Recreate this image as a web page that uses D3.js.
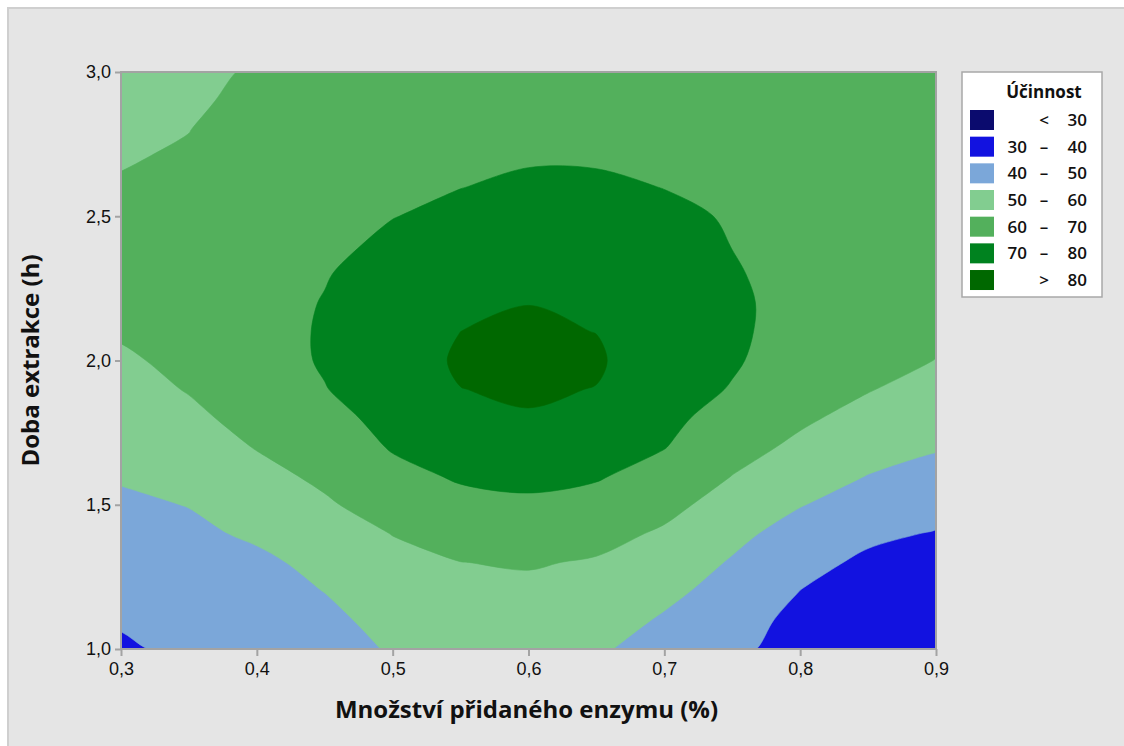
<!DOCTYPE html>
<html><head><meta charset="utf-8">
<script src="https://cdn.jsdelivr.net/npm/d3@7"></script>
<style>
body{margin:0;background:#ffffff;}
svg{display:block;font-family:"Segoe UI","Open Sans","Noto Sans",sans-serif;}
</style>
</head><body>
<svg id="chart" width="1124" height="746"></svg>
<script>
// ---- data ----
const xValues = [0.30,0.35,0.40,0.45,0.50,0.55,0.60,0.65,0.70,0.75,0.80,0.85,0.90];
const yValues = [1.0,1.1,1.2,1.3,1.4,1.5,1.6,1.7,1.8,1.9,2.0,2.1,2.2,2.3,2.4,2.5,2.6,2.7,2.8,2.9,3.0];
// efficiency[row for yValues[j]][column for xValues[i]]
const efficiency = [
  [38.8,41.9,44.9,47.7,50.5,53.0,53.5,51.0,47.0,42.5,35.5,33.5,32.0],
  [40.8,43.5,46.1,48.4,52.2,55.3,55.8,53.7,49.1,44.7,37.0,35.0,33.0],
  [42.7,45.2,47.3,50.1,54.8,57.6,58.1,56.4,51.9,46.9,39.9,37.0,34.3],
  [44.7,46.8,48.5,52.0,57.7,59.9,60.7,59.2,55.4,49.2,42.6,38.5,37.0],
  [46.7,48.5,51.1,56.0,60.2,63.7,64.6,62.9,58.8,52.4,46.2,41.6,39.5],
  [48.7,50.2,54.2,58.9,63.9,67.5,68.5,67.0,62.6,56.2,50.4,45.7,43.2],
  [50.7,52.9,57.4,61.7,67.5,71.0,72.2,70.8,66.5,59.9,54.3,49.8,47.0],
  [52.9,55.6,60.4,64.4,70.7,74.0,75.9,73.8,70.3,63.1,58.3,53.5,50.7],
  [55.0,58.4,62.5,67.0,72.9,76.9,79.5,76.7,72.3,66.3,61.3,57.2,53.8],
  [57.2,60.4,64.3,69.7,74.6,79.9,80.9,79.8,73.8,69.5,63.7,60.4,56.9],
  [59.3,61.2,66.2,70.8,75.9,81.0,82.0,81.0,74.7,70.9,66.0,62.1,59.9],
  [60.5,62.1,66.4,70.9,76.1,80.0,81.0,79.9,75.0,71.5,66.7,63.8,61.1],
  [61.2,63.0,66.6,70.4,75.5,78.0,79.9,78.2,74.5,71.4,67.3,65.5,62.2],
  [61.9,63.8,66.4,69.5,73.9,76.0,77.8,76.4,74.0,70.5,68.0,65.8,63.4],
  [61.9,63.3,66.0,68.0,71.7,74.0,75.7,74.6,72.6,69.9,67.8,66.2,64.5],
  [61.2,62.5,65.5,67.3,69.8,71.9,73.5,72.8,71.3,69.5,67.5,66.5,64.7],
  [60.5,61.6,64.6,66.6,68.9,69.9,71.3,71.1,69.9,68.8,67.3,66.2,64.8],
  [59.6,60.7,63.7,65.8,68.1,69.1,69.4,69.4,69.1,68.1,66.9,65.9,65.0],
  [57.9,59.9,62.8,65.0,67.2,68.2,68.8,68.8,68.2,67.4,66.4,65.6,64.8],
  [56.2,58.8,61.9,64.2,66.4,67.4,67.9,67.9,67.4,66.7,66.0,65.3,64.7],
  [54.5,57.7,61.0,63.5,65.5,66.5,67.0,67.0,66.5,66.0,65.5,65.0,64.5]
];
const thresholds = [30,40,50,60,70,80];
const bandColors = ["#0b0b6e","#1212e0","#7ba7d9","#82cd90","#53b05c","#00821f","#006800"];
const legendLeft  = ["",  "30","40","50","60","70",""];
const legendMid   = ["<", "–", "–", "–", "–", "–", ">"];
const legendRight = ["30","40","50","60","70","80","80"];
const xTicks = [0.3,0.4,0.5,0.6,0.7,0.8,0.9];
const yTicks = [1.0,1.5,2.0,2.5,3.0];
const xTitle = "Množství přidaného enzymu (%)";
const yTitle = "Doba extrakce (h)";
const legendTitle = "Účinnost";

// ---- drawing ----
const svg = d3.select("#chart");
const W = 1124, H = 746;
const plot = {left:121, right:936, top:72, bottom:649};

svg.append("rect").attr("x",0).attr("y",0).attr("width",W).attr("height",H).attr("fill","#ffffff");
svg.append("rect").attr("x",8).attr("y",8).attr("width",W+20).attr("height",H+20)
  .attr("fill","#e5e5e5").attr("stroke","#cfcfcf").attr("stroke-width",2);

const x = d3.scaleLinear().domain([0.3,0.9]).range([plot.left, plot.right]);
const y = d3.scaleLinear().domain([1.0,3.0]).range([plot.bottom, plot.top]);

const nx = xValues.length, ny = yValues.length;
// grid coordinate -> data coordinate (d3.contours puts sample i at i+0.5)
const gx = d3.scaleLinear().domain([0.5, nx-0.5]).range([xValues[0], xValues[nx-1]]);
const gy = d3.scaleLinear().domain([0.5, ny-0.5]).range([yValues[0], yValues[ny-1]]);

const flat = [];
for (let j=0;j<ny;j++) for (let i=0;i<nx;i++) flat.push(efficiency[j][i]);

const contours = d3.contours().size([nx, ny]).thresholds(thresholds)(flat);
const ringLine = d3.line().curve(d3.curveCatmullRomClosed.alpha(0.5));
function contourPath(mp){
  let s = "";
  mp.coordinates.forEach(poly => poly.forEach(ring => {
    const pts = ring.slice(0, ring.length-1).map(p => [x(gx(p[0])), y(gy(p[1]))]);
    if (pts.length > 2) s += ringLine(pts);
  }));
  return s;
}

svg.append("clipPath").attr("id","plotclip").append("rect")
  .attr("x",plot.left).attr("y",plot.top)
  .attr("width",plot.right-plot.left).attr("height",plot.bottom-plot.top);

const g = svg.append("g").attr("clip-path","url(#plotclip)");
g.append("rect").attr("x",plot.left).attr("y",plot.top)
  .attr("width",plot.right-plot.left).attr("height",plot.bottom-plot.top)
  .attr("fill",bandColors[0]);
g.selectAll("path.band").data(contours).join("path")
  .attr("class","band")
  .attr("d",contourPath)
  .attr("fill-rule","evenodd")
  .attr("fill",(d,i)=>bandColors[i+1])
  .attr("stroke",(d,i)=>bandColors[i+1])
  .attr("stroke-width",0.6);

// frame
const axisColor = "#a3a3a3";
svg.append("rect").attr("x",plot.left).attr("y",plot.top)
  .attr("width",plot.right-plot.left).attr("height",plot.bottom-plot.top)
  .attr("fill","none").attr("stroke",axisColor).attr("stroke-width",2);

const fmt = v => d3.format(".1f")(v).replace(".",",");

// x axis
const xa = svg.append("g").attr("transform",`translate(0,${plot.bottom})`)
  .call(d3.axisBottom(x).tickValues(xTicks).tickFormat(fmt).tickSize(7).tickSizeOuter(0).tickPadding(6));
xa.select(".domain").remove();
xa.selectAll(".tick line").attr("stroke",axisColor).attr("stroke-width",2);
xa.selectAll(".tick text").attr("font-size",18).attr("fill","#111").attr("font-family",null);

// y axis
const ya = svg.append("g").attr("transform",`translate(${plot.left},0)`)
  .call(d3.axisLeft(y).tickValues(yTicks).tickFormat(fmt).tickSize(6).tickSizeOuter(0).tickPadding(4));
ya.select(".domain").remove();
ya.selectAll(".tick line").attr("stroke",axisColor).attr("stroke-width",2);
ya.selectAll(".tick text").attr("font-size",18).attr("fill","#111").attr("font-family",null);

// titles
svg.append("text").attr("x",(plot.left+plot.right)/2 - 2).attr("y",718)
  .attr("text-anchor","middle").attr("font-size",24).attr("font-weight",700).attr("fill","#111")
  .text(xTitle);
svg.append("text").attr("transform",`translate(39,${(plot.top+plot.bottom)/2}) rotate(-90)`)
  .attr("text-anchor","middle").attr("font-size",24).attr("font-weight",700).attr("fill","#111")
  .text(yTitle);

// legend
const lg = svg.append("g");
lg.append("rect").attr("x",962).attr("y",72).attr("width",140).attr("height",225)
  .attr("fill","#ffffff").attr("stroke","#a8a8a8").attr("stroke-width",1.5);
lg.append("text").attr("x",1044).attr("y",98).attr("text-anchor","middle")
  .attr("font-size",17).attr("font-weight",700).attr("fill","#111").text(legendTitle);
const rows = lg.selectAll("g.row").data(bandColors).join("g").attr("class","row")
  .attr("transform",(d,i)=>`translate(0,${110 + i*26.67})`);
rows.append("rect").attr("x",970).attr("y",0).attr("width",24).attr("height",20).attr("fill",d=>d);
rows.append("text").attr("x",1027).attr("y",16).attr("text-anchor","end")
  .attr("font-size",17).attr("font-weight",600).attr("fill","#111").text((d,i)=>legendLeft[i]);
rows.append("text").attr("x",1044).attr("y",16).attr("text-anchor","middle")
  .attr("font-size",17).attr("font-weight",600).attr("fill","#111").text((d,i)=>legendMid[i]);
rows.append("text").attr("x",1087).attr("y",16).attr("text-anchor","end")
  .attr("font-size",17).attr("font-weight",600).attr("fill","#111").text((d,i)=>legendRight[i]);
</script>
</body></html>
